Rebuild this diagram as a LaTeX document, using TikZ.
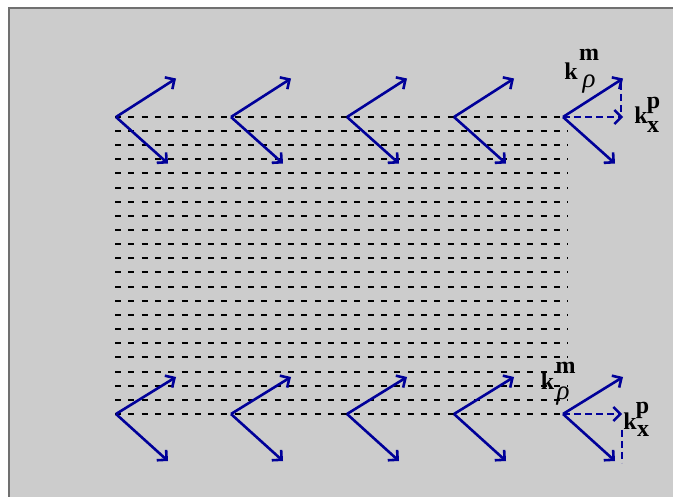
\documentclass[tikz,border=0pt]{standalone}
\usepackage{fontspec}
\setmainfont{Liberation Serif}
\usetikzlibrary{arrows.meta}
\definecolor{bgray}{HTML}{CCCCCC}
\definecolor{fgray}{HTML}{707070}
\definecolor{vblue}{HTML}{000099}
\tikzset{
  gridline/.style={black, line width=2, dash pattern=on 6 off 7.3},
  vec/.style={vblue, line width=2.6, -{Straight Barb[length=7pt,width=14pt]}},
  dvec/.style={vblue, line width=2.4, dash pattern=on 7 off 4, -{Straight Barb[length=7pt,width=14pt]}},
  dline/.style={vblue, line width=2.4, dash pattern=on 7 off 4},
  lab/.style={inner sep=0, font=\fontsize{24}{24}\selectfont\bfseries},
  labg/.style={inner sep=0, font=\fontsize{27}{27}\selectfont\itshape},
}
\begin{document}
\begin{tikzpicture}[x=1pt,y=-1pt]
\useasboundingbox (0,0) rectangle (673,497);
\fill[bgray] (8,7) rectangle (673,497);
\draw[fgray, line width=2] (9,497) -- (9,8) -- (673,8);
% dashed grid lines
\foreach \i in {0,...,21}
  \draw[gridline] (115,{round(116.7+\i*14.16)}) -- (568,{round(116.7+\i*14.16)});
% top row
\foreach \x [count=\n] in {116,231,347,454,563} {
  \coordinate (t\n) at (\x,117);
  \coordinate (tu\n) at (\x+60,78.5);
  \coordinate (td\n) at (\x+52,163.5);
  \draw[vec] (t\n) -- (tu\n);
  \draw[vec] (t\n) -- (td\n);
}
% bottom row
\foreach \x [count=\n] in {116,231,347,454,563} {
  \coordinate (b\n) at (\x,414);
  \coordinate (bu\n) at (\x+60,377);
  \coordinate (bd\n) at (\x+52,461);
  \draw[vec] (b\n) -- (bu\n);
  \draw[vec] (b\n) -- (bd\n);
}
% top-right projections
\coordinate (tx) at (623,117);
\coordinate (tv1) at (621,83);
\coordinate (tv2) at (621,114);
\draw[dvec] (t5) -- (tx);
\draw[dline] (tv1) -- (tv2);
% bottom-right projections
\coordinate (bx) at (622,414);
\coordinate (bv1) at (622,430);
\coordinate (bv2) at (622,463);
\draw[dvec] (b5) -- (bx);
\draw[dline] (bv1) -- (bv2);
% labels top
\node[lab] (tk) at (571,71) {k};
\node[lab] (tm) at (589,55) {m};
\node[labg] (tr) at (589,84) {ρ};
\node[lab] (tk2) at (641,115) {k};
\node[lab] (tp) at (653.5,105) {p};
\node[lab] (tx2) at (653,126.5) {x};
% labels bottom
\node[lab] (bk) at (547.5,381) {k};
\node[lab] (bm) at (565.5,367.5) {m};
\node[labg] (br) at (563,396) {ρ};
\node[lab] (bk2) at (630,421) {k};
\node[lab] (bp) at (642.5,410.5) {p};
\node[lab] (bx2) at (643,431) {x};
\end{tikzpicture}
\end{document}
